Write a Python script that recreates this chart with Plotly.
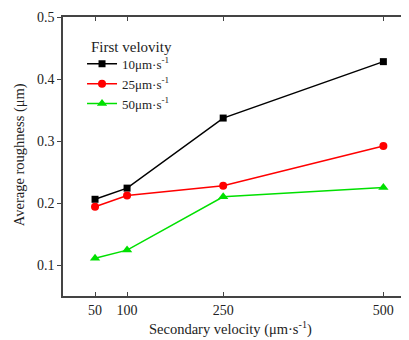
import plotly.graph_objects as go

secondary_velocity = [50, 100, 250, 500]
rough_10 = [0.206, 0.224, 0.337, 0.428]
rough_25 = [0.194, 0.212, 0.228, 0.292]
rough_50 = [0.111, 0.124, 0.210, 0.225]
series_names = ["10μm·s<sup>-1</sup>", "25μm·s<sup>-1</sup>", "50μm·s<sup>-1</sup>"]
x_ticks = [50, 100, 250, 500]
y_ticks = [0.1, 0.2, 0.3, 0.4, 0.5]

FONT = "Liberation Serif, Times New Roman, serif"
TXT = "#222"

fig = go.Figure()
styles = [("black", "square", 7), ("red", "circle", 8), ("#00e000", "triangle-up", 9)]
for ys, name, (col, sym, sz) in zip([rough_10, rough_25, rough_50], series_names, styles):
    fig.add_trace(go.Scatter(
        x=secondary_velocity, y=ys, name=name, mode="lines+markers",
        line=dict(color=col, width=1.5),
        marker=dict(color=col, symbol=sym, size=sz),
    ))

axis_common = dict(
    showline=True, linecolor="#444", linewidth=1.5, mirror="ticks",
    ticklen=4, tickwidth=1.2, tickcolor="#444", showgrid=False, zeroline=False,
    tickfont=dict(family=FONT, size=14, color=TXT), automargin=False,
)
fig.update_xaxes(range=[0, 540], tickvals=x_ticks, ticks="inside", **axis_common)
fig.update_yaxes(range=[0.05, 0.5], tickvals=y_ticks, tickformat=".1f", ticks="outside", **axis_common)

fig.add_annotation(
    text="Secondary velocity (μm·s<sup>-1</sup>)", xref="paper", yref="paper",
    x=0.4827, y=-0.1147, xanchor="center", yanchor="middle", showarrow=False,
    font=dict(family=FONT, size=14.5, color=TXT),
)
fig.add_annotation(
    text="Average roughness (μm)", xref="paper", yref="paper",
    x=-0.127, y=0.505, xanchor="center", yanchor="middle", textangle=-90, showarrow=False,
    font=dict(family=FONT, size=14.5, color=TXT),
)
fig.add_annotation(
    text="First velovity", xref="paper", yref="paper",
    x=0.074, y=0.892, xanchor="left", yanchor="middle", showarrow=False,
    font=dict(family=FONT, size=15, color=TXT),
)

fig.update_layout(
    width=401, height=332,
    margin=dict(l=55, r=0, t=9, b=44),
    paper_bgcolor="white", plot_bgcolor="white",
    font=dict(family=FONT, size=13, color=TXT),
    legend=dict(
        x=0.055, y=0.886, xanchor="left", yanchor="top",
        bgcolor="rgba(0,0,0,0)", font=dict(family=FONT, size=13, color=TXT),
        tracegroupgap=0, itemwidth=30,
    ),
)
fig.write_html("out.html")
